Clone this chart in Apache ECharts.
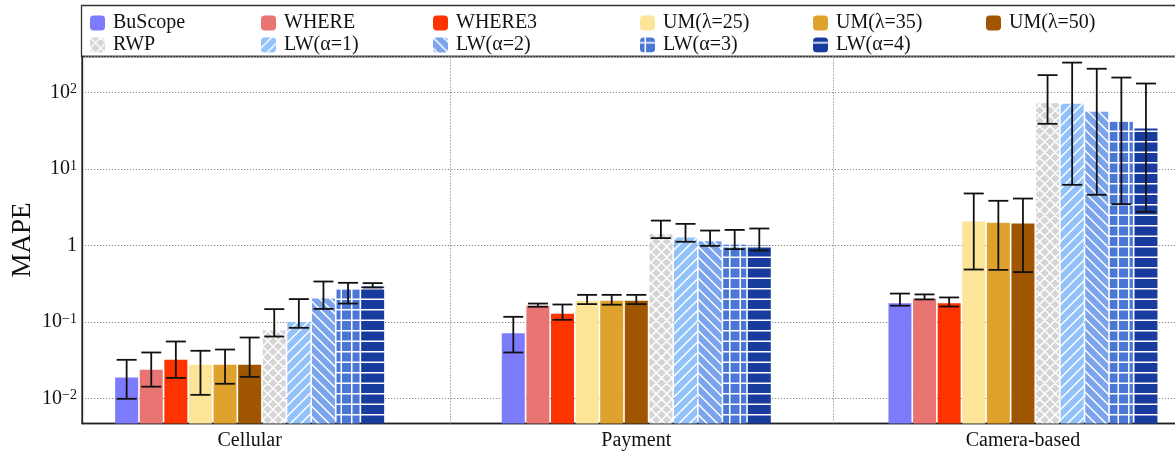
<!DOCTYPE html>
<html>
<head>
<meta charset="utf-8">
<script src="https://cdn.jsdelivr.net/npm/echarts@6/dist/echarts.min.js"></script>
<style>
  html, body { margin: 0; padding: 0; background: #fff; }
  #chart { width: 1175px; height: 454px; }
</style>
</head>
<body>
<div id="chart"></div>
<script>
// Scenarios on the x axis and the compared methods
const categories = ['Cellular', 'Payment', 'Camera-based'];
const methods = ['BuScope', 'WHERE', 'WHERE3', 'UM(λ=25)', 'UM(λ=35)', 'UM(λ=50)',
                 'RWP', 'LW(α=1)', 'LW(α=2)', 'LW(α=3)', 'LW(α=4)'];

// MAPE per method (same order as `methods`), with lower / upper error bounds
const cellularMean = [0.0187, 0.0236, 0.0319, 0.0275, 0.0275, 0.0275, 0.0772, 0.100, 0.202, 0.268, 0.291];
const cellularLow  = [0.00985, 0.0142, 0.0185, 0.0111, 0.0155, 0.0191, 0.0644, 0.0837, 0.148, 0.174, 0.282];
const cellularHigh = [0.0319, 0.0398, 0.0554, 0.0419, 0.0435, 0.0625, 0.147, 0.199, 0.338, 0.325, 0.322];

const paymentMean = [0.0713, 0.1625, 0.1277, 0.189, 0.189, 0.189, 1.41, 1.27, 1.14, 1.02, 0.99];
const paymentLow  = [0.0398, 0.158, 0.1065, 0.171, 0.168, 0.171, 1.25, 1.12, 0.99, 0.897, 0.86];
const paymentHigh = [0.1166, 0.174, 0.169, 0.226, 0.226, 0.226, 2.12, 1.92, 1.57, 1.60, 1.67];

const cameraMean = [0.176, 0.201, 0.176, 2.06, 1.98, 1.94, 73.1, 71.6, 56.3, 41.6, 34.0];
const cameraLow  = [0.163, 0.197, 0.159, 0.485, 0.48, 0.449, 39.2, 6.23, 4.61, 3.48, 2.76];
const cameraHigh = [0.235, 0.229, 0.209, 4.80, 3.85, 4.12, 170, 248, 206, 158, 132];

// Dotted separators between scenario groups (x-axis units)
const dividers = [0.515, 1.515];

const meanByCat = [cellularMean, paymentMean, cameraMean];
const lowByCat = [cellularLow, paymentLow, cameraLow];
const highByCat = [cellularHigh, paymentHigh, cameraHigh];

const FONT = 'Liberation Serif';
const fills = ['#7b7bfb', '#e87572', '#fd3300', '#fce499', '#dfa32d', '#a05500',
               '#d5d5d5', '#93c1fa', '#7ba4ec', '#4a76d6', '#183c9e'];
const hatches = [null, null, null, null, null, null, 'x', '/', '\\', '+', '-'];

const BAR_W = 23;
const BAR_GAP = 1.6;
const PITCH = BAR_W + BAR_GAP;

// Build a repeating canvas tile with white hatch lines
function hatchFill(bg, kind) {
  if (!kind) return bg;
  const T = 21, p = 10.5;
  const c = document.createElement('canvas');
  c.width = T; c.height = T;
  const g = c.getContext('2d');
  g.fillStyle = bg;
  g.fillRect(0, 0, T, T);
  g.strokeStyle = '#ffffff';
  g.lineWidth = 1.5;
  g.beginPath();
  if (kind === 'x' || kind === '/') {
    for (let k = 0; k <= 2 * T; k += p) { g.moveTo(k + 1, -1); g.lineTo(k - T - 1, T + 1); }
  }
  if (kind === 'x' || kind === '\\') {
    for (let k = -T; k <= T; k += p) { g.moveTo(k - 1, -1); g.lineTo(k + T + 1, T + 1); }
  }
  if (kind === '+') {
    for (let k = p / 2; k < T; k += p) { g.moveTo(k, 0); g.lineTo(k, T); }
  }
  if (kind === '+' || kind === '-') {
    for (let k = p / 2; k < T; k += p) { g.moveTo(0, k); g.lineTo(T, k); }
  }
  g.stroke();
  return { image: c, repeat: 'repeat' };
}

const chart = echarts.init(document.getElementById('chart'), null, { renderer: 'canvas' });

const barSeries = methods.map((name, i) => ({
  name: name,
  type: 'bar',
  barWidth: BAR_W,
  barGap: (BAR_GAP / BAR_W * 100).toFixed(2) + '%',
  itemStyle: { color: hatchFill(fills[i], hatches[i]) },
  emphasis: { disabled: true },
  data: categories.map((c, k) => [k, meanByCat[k][i]]),
  z: 2
}));

const errData = [];
methods.forEach((m, i) => {
  categories.forEach((c, k) => errData.push([i, k, lowByCat[k][i], highByCat[k][i]]));
});

const errSeries = {
  type: 'custom',
  name: 'err',
  silent: true,
  z: 5,
  encode: { x: 1, y: [2, 3] },
  data: errData,
  renderItem: function (params, api) {
    const s = api.value(0), k = api.value(1);
    const lo = api.coord([k, api.value(2)]);
    const hi = api.coord([k, api.value(3)]);
    const x = lo[0] + (s - (methods.length - 1) / 2) * PITCH;
    const cap = 10;
    const st = { stroke: '#111', lineWidth: 1.8 };
    return {
      type: 'group',
      children: [
        { type: 'line', shape: { x1: x, y1: lo[1], x2: x, y2: hi[1] }, style: st },
        { type: 'line', shape: { x1: x - cap, y1: lo[1], x2: x + cap, y2: lo[1] }, style: st },
        { type: 'line', shape: { x1: x - cap, y1: hi[1], x2: x + cap, y2: hi[1] }, style: st }
      ]
    };
  },
  markLine: {
    silent: true,
    symbol: 'none',
    label: { show: false },
    lineStyle: { color: '#888', type: [1.2, 1.8], width: 1 },
    data: dividers.map(v => ({ xAxis: v }))
  }
};

// Legend laid out as 6 columns of 2 rows
const legendCols = [90, 261, 433, 640, 813, 986];
const legends = legendCols.map((left, j) => ({
  orient: 'vertical',
  left: left,
  top: 13,
  padding: 0,
  itemGap: 2,
  itemWidth: 15,
  itemHeight: 15,
  icon: 'roundRect',
  selectedMode: false,
  data: methods.filter((m, i) => i % 6 === j),
  textStyle: { fontFamily: FONT, fontSize: 20, color: '#111', lineHeight: 20, padding: [0, 0, 0, 3] }
}));

const yMin = 0.00468, yMax = 298;

chart.setOption({
  animation: false,
  backgroundColor: '#fff',
  grid: {
    left: 82, top: 56.5, bottom: 30.5, right: -3,
    outerBoundsMode: 'none',
    containLabel: false,
    show: true, borderColor: '#333', borderWidth: 1.3, backgroundColor: 'transparent'
  },
  legend: legends,
  graphic: [{
    type: 'rect',
    shape: { x: 81.5, y: 5.5, width: 1110, height: 51 },
    style: { fill: 'none', stroke: '#333', lineWidth: 1.3 },
    silent: true
  }],
  xAxis: {
    type: 'value',
    min: -0.4336,
    max: 2.401,
    splitLine: { show: false },
    axisTick: { show: false },
    axisLine: { show: true, onZero: false, lineStyle: { color: '#222', width: 1.3 } },
    axisLabel: {
      customValues: [0, 1, 2],
      formatter: v => categories[Math.round(v)],
      fontFamily: FONT, fontSize: 20, color: '#111', margin: 7
    }
  },
  yAxis: {
    type: 'log',
    logBase: 10,
    min: yMin,
    max: yMax,
    startValue: yMin,
    name: 'MAPE',
    nameLocation: 'middle',
    nameGap: 46,
    nameMoveOverlap: false,
    nameTextStyle: { fontFamily: FONT, fontSize: 27, color: '#111' },
    axisLine: { show: true, onZero: false, lineStyle: { color: '#222', width: 1.3 } },
    axisTick: { show: false },
    splitLine: { show: true, lineStyle: { color: '#888', type: [1.2, 1.8], width: 1 } },
    axisLabel: {
      margin: 5,
      formatter: function (v) {
        const e = Math.log10(v);
        const r = Math.round(e);
        if (Math.abs(e - r) > 1e-6) return '';
        if (r === 0) return '{b|1}';
        return '{b|10}{s|' + (r < 0 ? '\u2212' : '') + Math.abs(r) + '}';
      },
      rich: {
        b: { fontFamily: FONT, fontSize: 20, color: '#111', lineHeight: 20, padding: [5, 0, 5, 0] },
        s: { fontFamily: FONT, fontSize: 14, color: '#111', lineHeight: 14, verticalAlign: 'top' }
      }
    }
  },
  series: barSeries.concat([errSeries])
});
</script>
</body>
</html>
